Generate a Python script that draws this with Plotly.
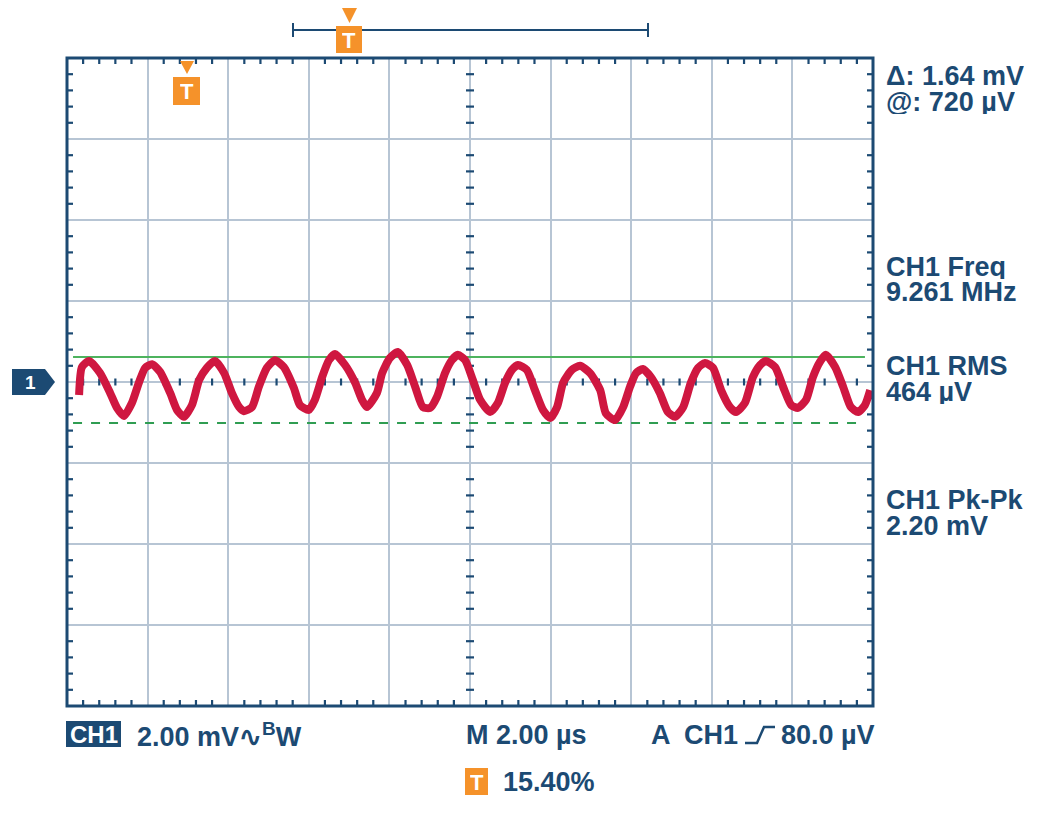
import numpy as np
import plotly.graph_objects as go

# ---------------- data ----------------
t_us = [0.30, 0.37, 0.55, 0.82, 1.07, 1.24, 1.41, 1.61, 1.79, 1.94, 2.11, 2.31,
        2.56, 2.73, 2.90, 3.10, 3.28, 3.47, 3.67, 3.90, 4.09, 4.27, 4.39, 4.59,
        4.76, 4.96, 5.16, 5.38, 5.63, 5.78, 6.00, 6.15, 6.33, 6.50, 6.65,
        6.90, 7.15, 7.32, 7.44, 7.69, 7.82, 8.01, 8.21, 8.44, 8.64, 8.83, 9.01,
        9.18, 9.38, 9.55, 9.70, 9.88, 10.07, 10.25, 10.50, 10.69, 10.87, 11.04,
        11.19, 11.41, 11.61, 11.81, 11.99, 12.16, 12.31, 12.53, 12.73, 12.98,
        13.23, 13.37, 13.60, 13.80, 13.97, 14.12, 14.29, 14.49, 14.71, 14.91,
        15.09, 15.29, 15.48, 15.66, 15.83, 16.03, 16.23, 16.45, 16.60, 16.82,
        17.02, 17.20, 17.34, 17.57, 17.77, 17.97, 18.14, 18.34, 18.51, 18.68,
        18.83, 19.06, 19.26, 19.45, 19.63, 19.80, 19.93]
v_mv = [-0.32, 0.37, 0.52, 0.22, -0.27, -0.64, -0.84, -0.52, 0.00, 0.35, 0.44, 0.25,
        -0.27, -0.69, -0.86, -0.57, 0.05, 0.35, 0.52, 0.22, -0.27, -0.62, -0.72, -0.62,
        -0.12, 0.35, 0.54, 0.37, -0.15, -0.57, -0.69, -0.44, 0.12, 0.54, 0.69,
        0.42, -0.02, -0.44, -0.62, -0.27, 0.22, 0.59, 0.74, 0.42, -0.12, -0.62, -0.64,
        -0.37, 0.22, 0.54, 0.67, 0.54, 0.05, -0.44, -0.74, -0.52, -0.02, 0.30,
        0.42, 0.30, -0.20, -0.69, -0.89, -0.62, -0.02, 0.30, 0.40, 0.22,
        -0.20, -0.77, -0.94, -0.62, -0.12, 0.22, 0.32, 0.12, -0.27, -0.74,
        -0.86, -0.62, -0.02, 0.35, 0.47, 0.35, -0.20, -0.62, -0.74, -0.52,
        0.12, 0.42, 0.52, 0.37, -0.12, -0.57, -0.64, -0.44, 0.12, 0.49,
        0.67, 0.37, -0.12, -0.62, -0.74, -0.57, -0.20]

cursor_hi_mv = 0.62
cursor_lo_mv = -1.01
cursor_span_us = [0.15, 19.8]

x_range = [0, 20]      # 2.00 us/div, 10 div
y_range = [-8, 8]      # 2.00 mV/div, 8 div
major_x, major_y = 2, 2
minor_x, minor_y = 0.4, 0.4

readouts = [("Δ: 1.64 mV", 76), ("@: 720 µV", 102),
            ("CH1 Freq", 267), ("9.261 MHz", 292),
            ("CH1 RMS", 366), ("464 µV", 392),
            ("CH1 Pk-Pk", 500), ("2.20 mV", 526)]

# ---------------- styling ----------------
W, H = 1049, 817
L, R, T, B = 67, 873, 58, 706
NAVY = "#1c4a73"
GRID = "#b7c5d4"
RED = "#cf1740"
GREEN = "#4db35e"
GREEN_D = "#2f9d52"
ORANGE = "#f5922a"
FONT = "Liberation Sans"
FS = 27


def px(xp):
    return (xp - L) / (R - L)


def py(yp):
    return (B - yp) / (B - T)


ux = (x_range[1] - x_range[0]) / (R - L)   # data units per pixel
uy = (y_range[1] - y_range[0]) / (B - T)

fig = go.Figure()

# ---- graticule ticks ----
tx, ty = [], []
xs = np.round(np.arange(x_range[0], x_range[1] + 1e-9, minor_x), 6)
ys = np.round(np.arange(y_range[0], y_range[1] + 1e-9, minor_y), 6)
xc = (x_range[0] + x_range[1]) / 2
yc = (y_range[0] + y_range[1]) / 2
el = 6
cl = 3.5
for x in xs:
    if abs(x / major_x - round(x / major_x)) < 1e-6:
        continue
    tx += [x, x, None, x, x, None, x, x, None]
    ty += [y_range[1], y_range[1] - el * uy, None,
           y_range[0], y_range[0] + el * uy, None,
           yc - cl * uy, yc + cl * uy, None]
for y in ys:
    if abs(y / major_y - round(y / major_y)) < 1e-6:
        continue
    ty += [y, y, None, y, y, None, y, y, None]
    tx += [x_range[0], x_range[0] + el * ux, None,
           x_range[1], x_range[1] - el * ux, None,
           xc - 4 * ux, xc + 4 * ux, None]
fig.add_trace(go.Scatter(x=tx, y=ty, mode="lines",
                         line=dict(color=NAVY, width=2.2),
                         hoverinfo="skip", showlegend=False))

# ---- cursors ----
fig.add_trace(go.Scatter(x=cursor_span_us, y=[cursor_hi_mv] * 2, mode="lines",
                         line=dict(color=GREEN, width=2), showlegend=False))
fig.add_trace(go.Scatter(x=cursor_span_us, y=[cursor_lo_mv] * 2, mode="lines",
                         line=dict(color=GREEN_D, width=2, dash="dash"),
                         showlegend=False))

# ---- waveform ----
fig.add_trace(go.Scatter(x=t_us, y=v_mv, mode="lines",
                         line=dict(color=RED, width=8, shape="spline", smoothing=0.6),
                         showlegend=False))

shapes = []
# frame
shapes.append(dict(type="rect", xref="paper", yref="paper", x0=0, x1=1, y0=0, y1=1,
                   line=dict(color=NAVY, width=3), layer="above"))
# top bracket
shapes.append(dict(type="line", xref="paper", yref="paper",
                   x0=px(293), x1=px(648), y0=py(30), y1=py(30),
                   line=dict(color=NAVY, width=2)))
for xe in (293, 648):
    shapes.append(dict(type="line", xref="paper", yref="paper",
                       x0=px(xe), x1=px(xe), y0=py(23), y1=py(37),
                       line=dict(color=NAVY, width=2)))


def tbox(x0, x1, y0, y1):
    shapes.append(dict(type="rect", xref="paper", yref="paper",
                       x0=px(x0), x1=px(x1), y0=py(y1), y1=py(y0),
                       fillcolor=ORANGE, line=dict(width=0)))


def tri(x0, x1, ytop, ybot):
    xm = (x0 + x1) / 2
    path = "M {} {} L {} {} L {} {} Z".format(px(x0), py(ytop), px(x1), py(ytop), px(xm), py(ybot))
    shapes.append(dict(type="path", xref="paper", yref="paper", path=path,
                       fillcolor=ORANGE, line=dict(width=0)))


tbox(336, 362, 26, 53)
tri(342, 357, 8, 23)
tbox(173, 200, 77, 105)
tri(180, 194, 61, 74)
tbox(465, 488, 768, 795)

# channel marker
cm = [(12, 369), (45, 369), (55, 382), (45, 395), (12, 395)]
path = "M " + " L ".join("{} {}".format(px(a), py(b)) for a, b in cm) + " Z"
shapes.append(dict(type="path", xref="paper", yref="paper", path=path,
                   fillcolor=NAVY, line=dict(width=0)))
# CH1 box
shapes.append(dict(type="rect", xref="paper", yref="paper",
                   x0=px(66), x1=px(121), y0=py(747), y1=py(721),
                   fillcolor=NAVY, line=dict(width=0)))
# rising-edge symbol
edge = [(745, 743), (757, 743), (764, 727), (775, 727)]
path = "M " + " L ".join("{} {}".format(px(a), py(b)) for a, b in edge)
shapes.append(dict(type="path", xref="paper", yref="paper", path=path,
                   line=dict(color=NAVY, width=2.5)))

ann = []


def text(s, xp, yp, size=FS, color=NAVY, anchor="left", h=None):
    d = dict(text="<b>" + s + "</b>", xref="paper", yref="paper",
             x=px(xp), y=py(yp), xanchor=anchor, yanchor="middle",
             showarrow=False, font=dict(family=FONT, size=size, color=color))
    if h:
        d["height"] = h
    ann.append(d)


for s, yy in readouts:
    text(s, 884, yy, h=24)

text("T", 349, 40, size=22, color="white", anchor="center", h=24)
text("T", 186.5, 91, size=22, color="white", anchor="center", h=24)
text("T", 476.5, 782, size=22, color="white", anchor="center", h=24)
text("1", 30, 382, size=19, color="white", anchor="center")
text("CH1", 93.5, 734, size=24, color="white", anchor="center", h=24)
text("2.00 mV∿<sup>B</sup>W", 135, 735)
text("M 2.00 µs", 464, 735)
text("A", 649, 735)
text("CH1", 682, 735)
text("80.0 µV", 877, 735, anchor="right")
text("15.40%", 501, 782)

fig.update_layout(
    width=W, height=H,
    margin=dict(l=L, r=W - R, t=T, b=H - B, pad=0),
    paper_bgcolor="white", plot_bgcolor="white",
    shapes=shapes, annotations=ann,
    xaxis=dict(range=x_range, dtick=major_x, tick0=0, showgrid=True, gridcolor=GRID,
               gridwidth=2, zeroline=False, showticklabels=False, ticks="",
               showline=False, fixedrange=True),
    yaxis=dict(range=y_range, dtick=major_y, tick0=0, showgrid=True, gridcolor=GRID,
               gridwidth=2, zeroline=False, showticklabels=False, ticks="",
               showline=False, fixedrange=True),
    showlegend=False,
)

fig.write_html("out.html", config={"displayModeBar": False},
               post_script="document.body.style.margin='0px';document.body.style.overflow='hidden';")
